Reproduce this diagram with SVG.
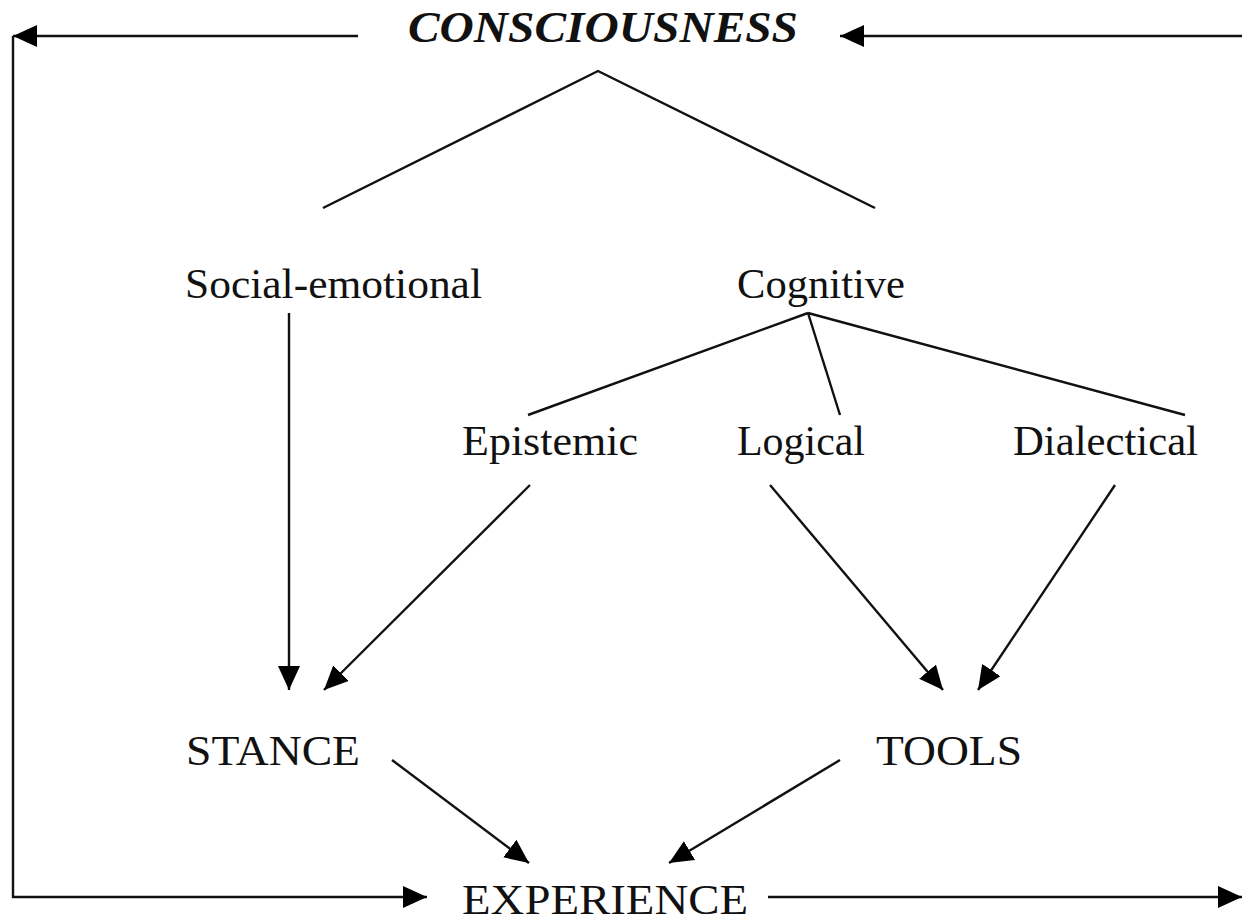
<svg xmlns="http://www.w3.org/2000/svg" width="1242" height="924" viewBox="0 0 1242 924">
<style>
  .lbl { font-family: "Liberation Serif", "Times New Roman", serif; font-size: 42px; fill: #111; }
  .title { font-family: "Liberation Serif", "Times New Roman", serif; font-size: 44px; font-weight: bold; font-style: italic; fill: #111; }
  .ln { stroke: #111; stroke-width: 2.4; fill: none; }
</style>
<defs>
  <marker id="ah" markerUnits="userSpaceOnUse" markerWidth="24" markerHeight="22" refX="24" refY="11" orient="auto">
    <path d="M0,0 L24,11 L0,22 z" fill="#000"/>
  </marker>
</defs>
<rect width="1242" height="924" fill="#fff"/>
<g id="connectors">
  <line class="ln" x1="358" y1="36" x2="13" y2="36" marker-end="url(#ah)"/>
  <line class="ln" x1="1242" y1="36" x2="840" y2="36" marker-end="url(#ah)"/>
  <path class="ln" d="M13,36 L13,897 L427,897" marker-end="url(#ah)"/>
  <line class="ln" x1="768" y1="897" x2="1242" y2="897" marker-end="url(#ah)"/>
  <polyline class="ln" points="323,208 598,71 875,208"/>
  <line class="ln" x1="808" y1="313" x2="528" y2="415"/>
  <line class="ln" x1="808" y1="313" x2="840" y2="415"/>
  <line class="ln" x1="808" y1="313" x2="1185" y2="415"/>
  <line class="ln" x1="289" y1="313" x2="289" y2="690" marker-end="url(#ah)"/>
  <line class="ln" x1="530" y1="485" x2="324" y2="690" marker-end="url(#ah)"/>
  <line class="ln" x1="770" y1="485" x2="943" y2="690" marker-end="url(#ah)"/>
  <line class="ln" x1="1115" y1="485" x2="978" y2="690" marker-end="url(#ah)"/>
  <line class="ln" x1="392" y1="760" x2="529" y2="863" marker-end="url(#ah)"/>
  <line class="ln" x1="840" y1="760" x2="669" y2="863" marker-end="url(#ah)"/>
</g>
<g id="consciousness"><text class="title" x="408" y="42" textLength="390" lengthAdjust="spacingAndGlyphs">CONSCIOUSNESS</text></g>
<g id="social-emotional"><text class="lbl" x="185" y="298" textLength="297" lengthAdjust="spacingAndGlyphs">Social-emotional</text></g>
<g id="cognitive"><text class="lbl" x="737" y="298" textLength="168" lengthAdjust="spacingAndGlyphs">Cognitive</text></g>
<g id="epistemic"><text class="lbl" x="462" y="455" textLength="176" lengthAdjust="spacingAndGlyphs">Epistemic</text></g>
<g id="logical"><text class="lbl" x="737" y="455" textLength="128" lengthAdjust="spacingAndGlyphs">Logical</text></g>
<g id="dialectical"><text class="lbl" x="1013" y="455" textLength="185" lengthAdjust="spacingAndGlyphs">Dialectical</text></g>
<g id="stance"><text class="lbl" x="186" y="765" textLength="174" lengthAdjust="spacingAndGlyphs">STANCE</text></g>
<g id="tools"><text class="lbl" x="876" y="765" textLength="146" lengthAdjust="spacingAndGlyphs">TOOLS</text></g>
<g id="experience"><text class="lbl" x="462" y="914" textLength="286" lengthAdjust="spacingAndGlyphs">EXPERIENCE</text></g>
</svg>
